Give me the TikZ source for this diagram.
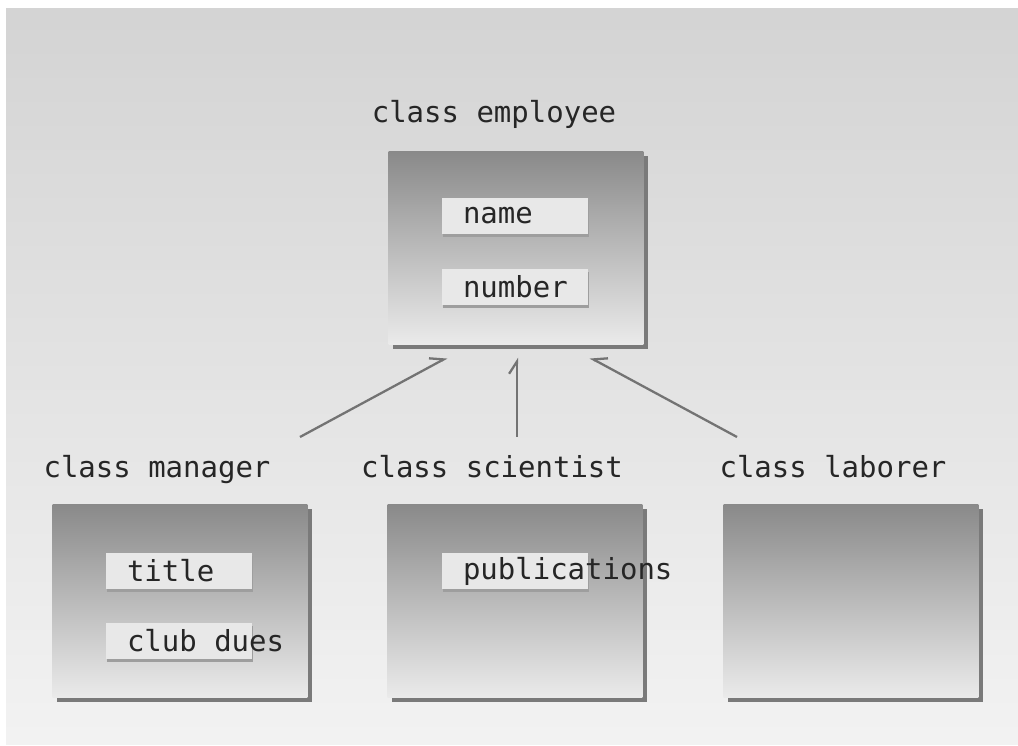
\documentclass[tikz,border=0pt]{standalone}
\usepackage{fontspec}
\setmonofont{DejaVu Sans Mono}
\usetikzlibrary{arrows.meta, shadows, calc}

\newcommand{\member}[1]{\makebox[2.08cm][l]{#1}}

\begin{document}
\begin{tikzpicture}[x=0.02cm, y=-0.02cm, >={Straight Barb[harpoon, length=7pt, width=9pt]},
    font=\fontsize{16.5}{18}\ttfamily,
    classbox/.style={minimum width=5.1cm, minimum height=3.85cm, inner sep=0pt,
        top color=black!46, middle color=black!19, bottom color=black!8,
        drop shadow={shadow xshift=0.09cm, shadow yshift=-0.09cm, fill=black!52, opacity=1}},
    field/.style={fill=black!9, minimum height=0.74cm, inner xsep=0.42cm, inner ysep=0pt,
        text=black!85,
        drop shadow={shadow xshift=0.02cm, shadow yshift=-0.06cm, fill=black!38, opacity=1}},
    classname/.style={text=black!85, inner sep=0pt, anchor=base},
    isa/.style={->, draw=black!55, line width=1.3pt}]
% background
\fill[white] (0,0) rectangle (1018,746);
\shade[top color=black!17, bottom color=black!5] (6,9) rectangle (1018,744);
\useasboundingbox (0,0) rectangle (1018,746);

% classes
\node[classbox] (employee)  at (516,248) {};
\node[classbox] (manager)   at (180,601) {};
\node[classbox] (scientist) at (515,601) {};
\node[classbox] (laborer)   at (851,601) {};

\node[classname] (employeelbl)  at (494,123) {class employee};
\node[classname] (managerlbl)   at (157,478) {class manager};
\node[classname] (scientistlbl) at (492,478) {class scientist};
\node[classname] (laborerlbl)   at (833,478) {class laborer};

% data members
\node[field] (name)   at (515,216) {\member{name}};
\node[field] (number) at (515,287) {\member{number}};
\node[field] (title)  at (179,571) {\member{title}};
\node[field] (dues)   at (179,641) {\member{club dues}};
\node[field] (pubs)   at (515,571) {\member{publications}};

% derived from employee
\coordinate (m) at (300,437);
\coordinate (s) at (517,437);
\coordinate (l) at (737,437);
\draw[isa] (m) -- ($(employee.south)+(-69,13)$);
\draw[isa] (s) -- ($(employee.south)+(1,13)$);
\draw[isa, >={Straight Barb[harpoon, swap, length=7pt, width=9pt]}] (l) -- ($(employee.south)+(74,13)$);
\end{tikzpicture}
\end{document}
